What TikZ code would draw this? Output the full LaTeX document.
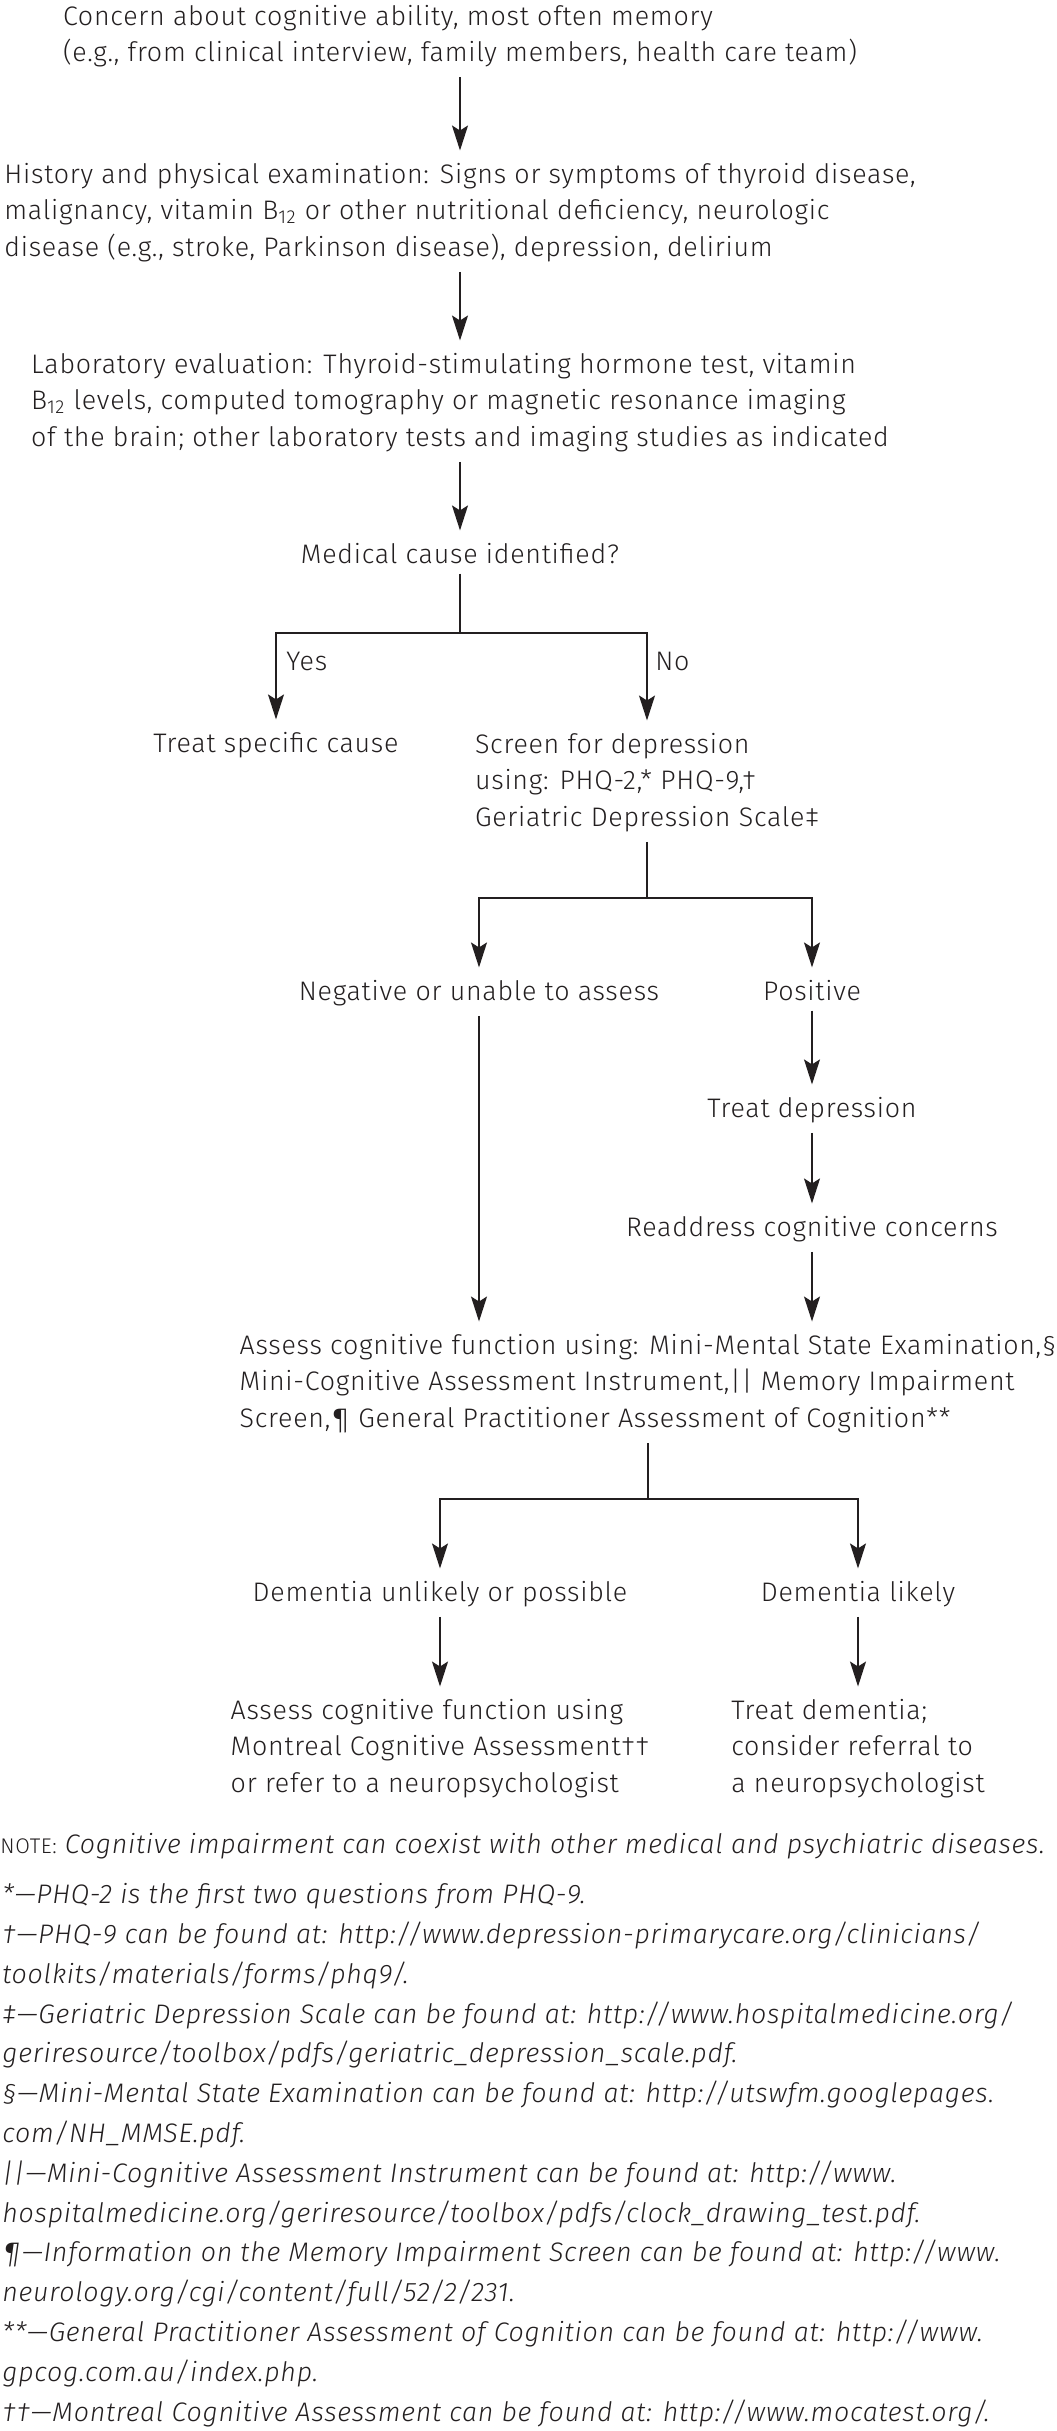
\documentclass[tikz,border=0pt]{standalone}
\usepackage{fontspec}
\setmainfont{Fira Sans}[UprightFont=* Light, ItalicFont=* Light Italic, LetterSpace=2.8]
\usepackage{tikz}
\usetikzlibrary{positioning,arrows.meta}
\definecolor{inkblack}{HTML}{231F20}
\newcommand{\flowfont}{\fontsize{13.4}{18.25}\selectfont}
\newcommand{\notefont}{\fontsize{13.4}{19.9}\selectfont\itshape}

\begin{document}
\begin{tikzpicture}[
    x=0.5pt, y=-0.5pt,
    >={Stealth[length=12.5pt, width=8pt, inset=2.5pt]},
    textbox/.style={inner sep=0pt, align=left, font=\flowfont, anchor=north, color=inkblack},
    single/.style={inner sep=0pt, font=\flowfont, anchor=base, color=inkblack},
    branchlbl/.style={inner sep=0pt, font=\flowfont, anchor=base west, color=inkblack},
    arrow/.style={->, line width=0.75pt, color=inkblack, shorten <=5pt, shorten >=6pt},
    branch/.style={->, line width=0.75pt, color=inkblack, shorten >=6pt},
    stem/.style={line width=0.75pt, color=inkblack, shorten <=5pt},
]
\useasboundingbox (0,0) rectangle (1056,2431);
\fill[white] (0,0) rectangle (1056,2431);

% main spine
\node[textbox] (concern) at (460,4.5)
    {Concern about cognitive ability, most often memory\\
     (e.g., from clinical interview, family members, health care team)};
\node[textbox] (history) at (460,162.5)
    {History and physical examination: Signs or symptoms of thyroid disease,\\
     malignancy, vitamin B\textsubscript{12} or other nutritional deficiency, neurologic\\
     disease (e.g., stroke, Parkinson disease), depression, delirium};
\node[textbox] (lab) at (460,352.5)
    {Laboratory evaluation: Thyroid-stimulating hormone test, vitamin\\
     B\textsubscript{12} levels, computed tomography or magnetic resonance imaging\\
     of the brain; other laboratory tests and imaging studies as indicated};
\node[single] (medical) at (460,563) {Medical cause identified?};

% yes / no
\coordinate (medfork) at (460,633);
\node[single] (treatspec) at (276,752) {Treat specific cause};
\node[textbox] (screen) at (647,732.5)
    {Screen for depression\\
     using: PHQ-2,* PHQ-9,†\\
     Geriatric Depression Scale‡};
\node[branchlbl] (yes) at (286,670) {Yes};
\node[branchlbl] (no) at (655,670) {No};

% depression screen
\coordinate (scrfork) at (647,898);
\node[single] (negative) at (479,1000) {Negative or unable to assess};
\node[single] (positive) at (812,1000) {Positive};
\node[single] (treatdep) at (812,1117) {Treat depression};
\node[single] (readdress) at (812,1236) {Readdress cognitive concerns};

% cognitive function
\node[textbox] (assess) at (648,1333.5)
    {Assess cognitive function using: Mini-Mental State Examination,§\\
     Mini-Cognitive Assessment Instrument,|| Memory Impairment\\
     Screen,¶ General Practitioner Assessment of Cognition**};
\coordinate (assfork) at (648,1499);
\node[single] (unlikely) at (440,1601) {Dementia unlikely or possible};
\node[single] (likely) at (858,1601) {Dementia likely};
\node[textbox] (moca) at (440,1698.5)
    {Assess cognitive function using\\
     Montreal Cognitive Assessment††\\
     or refer to a neuropsychologist};
\node[textbox] (treatdem) at (858,1698.5)
    {Treat dementia;\\
     consider referral to\\
     a neuropsychologist};

% notes
\node[single, anchor=base west] (note) at (0,1853)
    {{\fontsize{10.6}{12}\selectfont NOTE:} \textit{Cognitive impairment can coexist with other medical and psychiatric diseases.}};
\node[inner sep=0pt, align=left, font=\notefont, anchor=north west, color=inkblack] (footnotes) at (2,1883)
    {*—PHQ-2 is the first two questions from PHQ-9.\\
     †—PHQ-9 can be found at: http://www.depression-primarycare.org/clinicians/\\
     toolkits/materials/forms/phq9/.\\
     ‡—Geriatric Depression Scale can be found at: http://www.hospitalmedicine.org/\\
     geriresource/toolbox/pdfs/geriatric\_depression\_scale.pdf.\\
     §—Mini-Mental State Examination can be found at: http://utswfm.googlepages.\\
     com/NH\_MMSE.pdf.\\
     ||—Mini-Cognitive Assessment Instrument can be found at: http://www.\\
     hospitalmedicine.org/geriresource/toolbox/pdfs/clock\_drawing\_test.pdf.\\
     ¶—Information on the Memory Impairment Screen can be found at: http://www.\\
     neurology.org/cgi/content/full/52/2/231.\\
     **—General Practitioner Assessment of Cognition can be found at: http://www.\\
     gpcog.com.au/index.php.\\
     ††—Montreal Cognitive Assessment can be found at: http://www.mocatest.org/.};

% connectors
\draw[arrow] (concern) -- (history);
\draw[arrow] (history) -- (lab);
\draw[arrow] (lab) -- (medical);
\draw[stem] (medical) -- (medfork);
\draw[branch] (medfork) -| (treatspec);
\draw[branch] (medfork) -| (screen);
\draw[stem] (screen) -- (scrfork);
\draw[branch] (scrfork) -| (negative);
\draw[branch] (scrfork) -| (positive);
\draw[arrow] (negative) -- (negative |- assess.north);
\draw[arrow] (positive) -- (treatdep);
\draw[arrow] (treatdep) -- (readdress);
\draw[arrow] (readdress) -- (readdress |- assess.north);
\draw[stem] (assess) -- (assfork);
\draw[branch] (assfork) -| (unlikely);
\draw[branch] (assfork) -| (likely);
\draw[arrow] (unlikely) -- (moca);
\draw[arrow] (likely) -- (treatdem);

\end{tikzpicture}
\end{document}
